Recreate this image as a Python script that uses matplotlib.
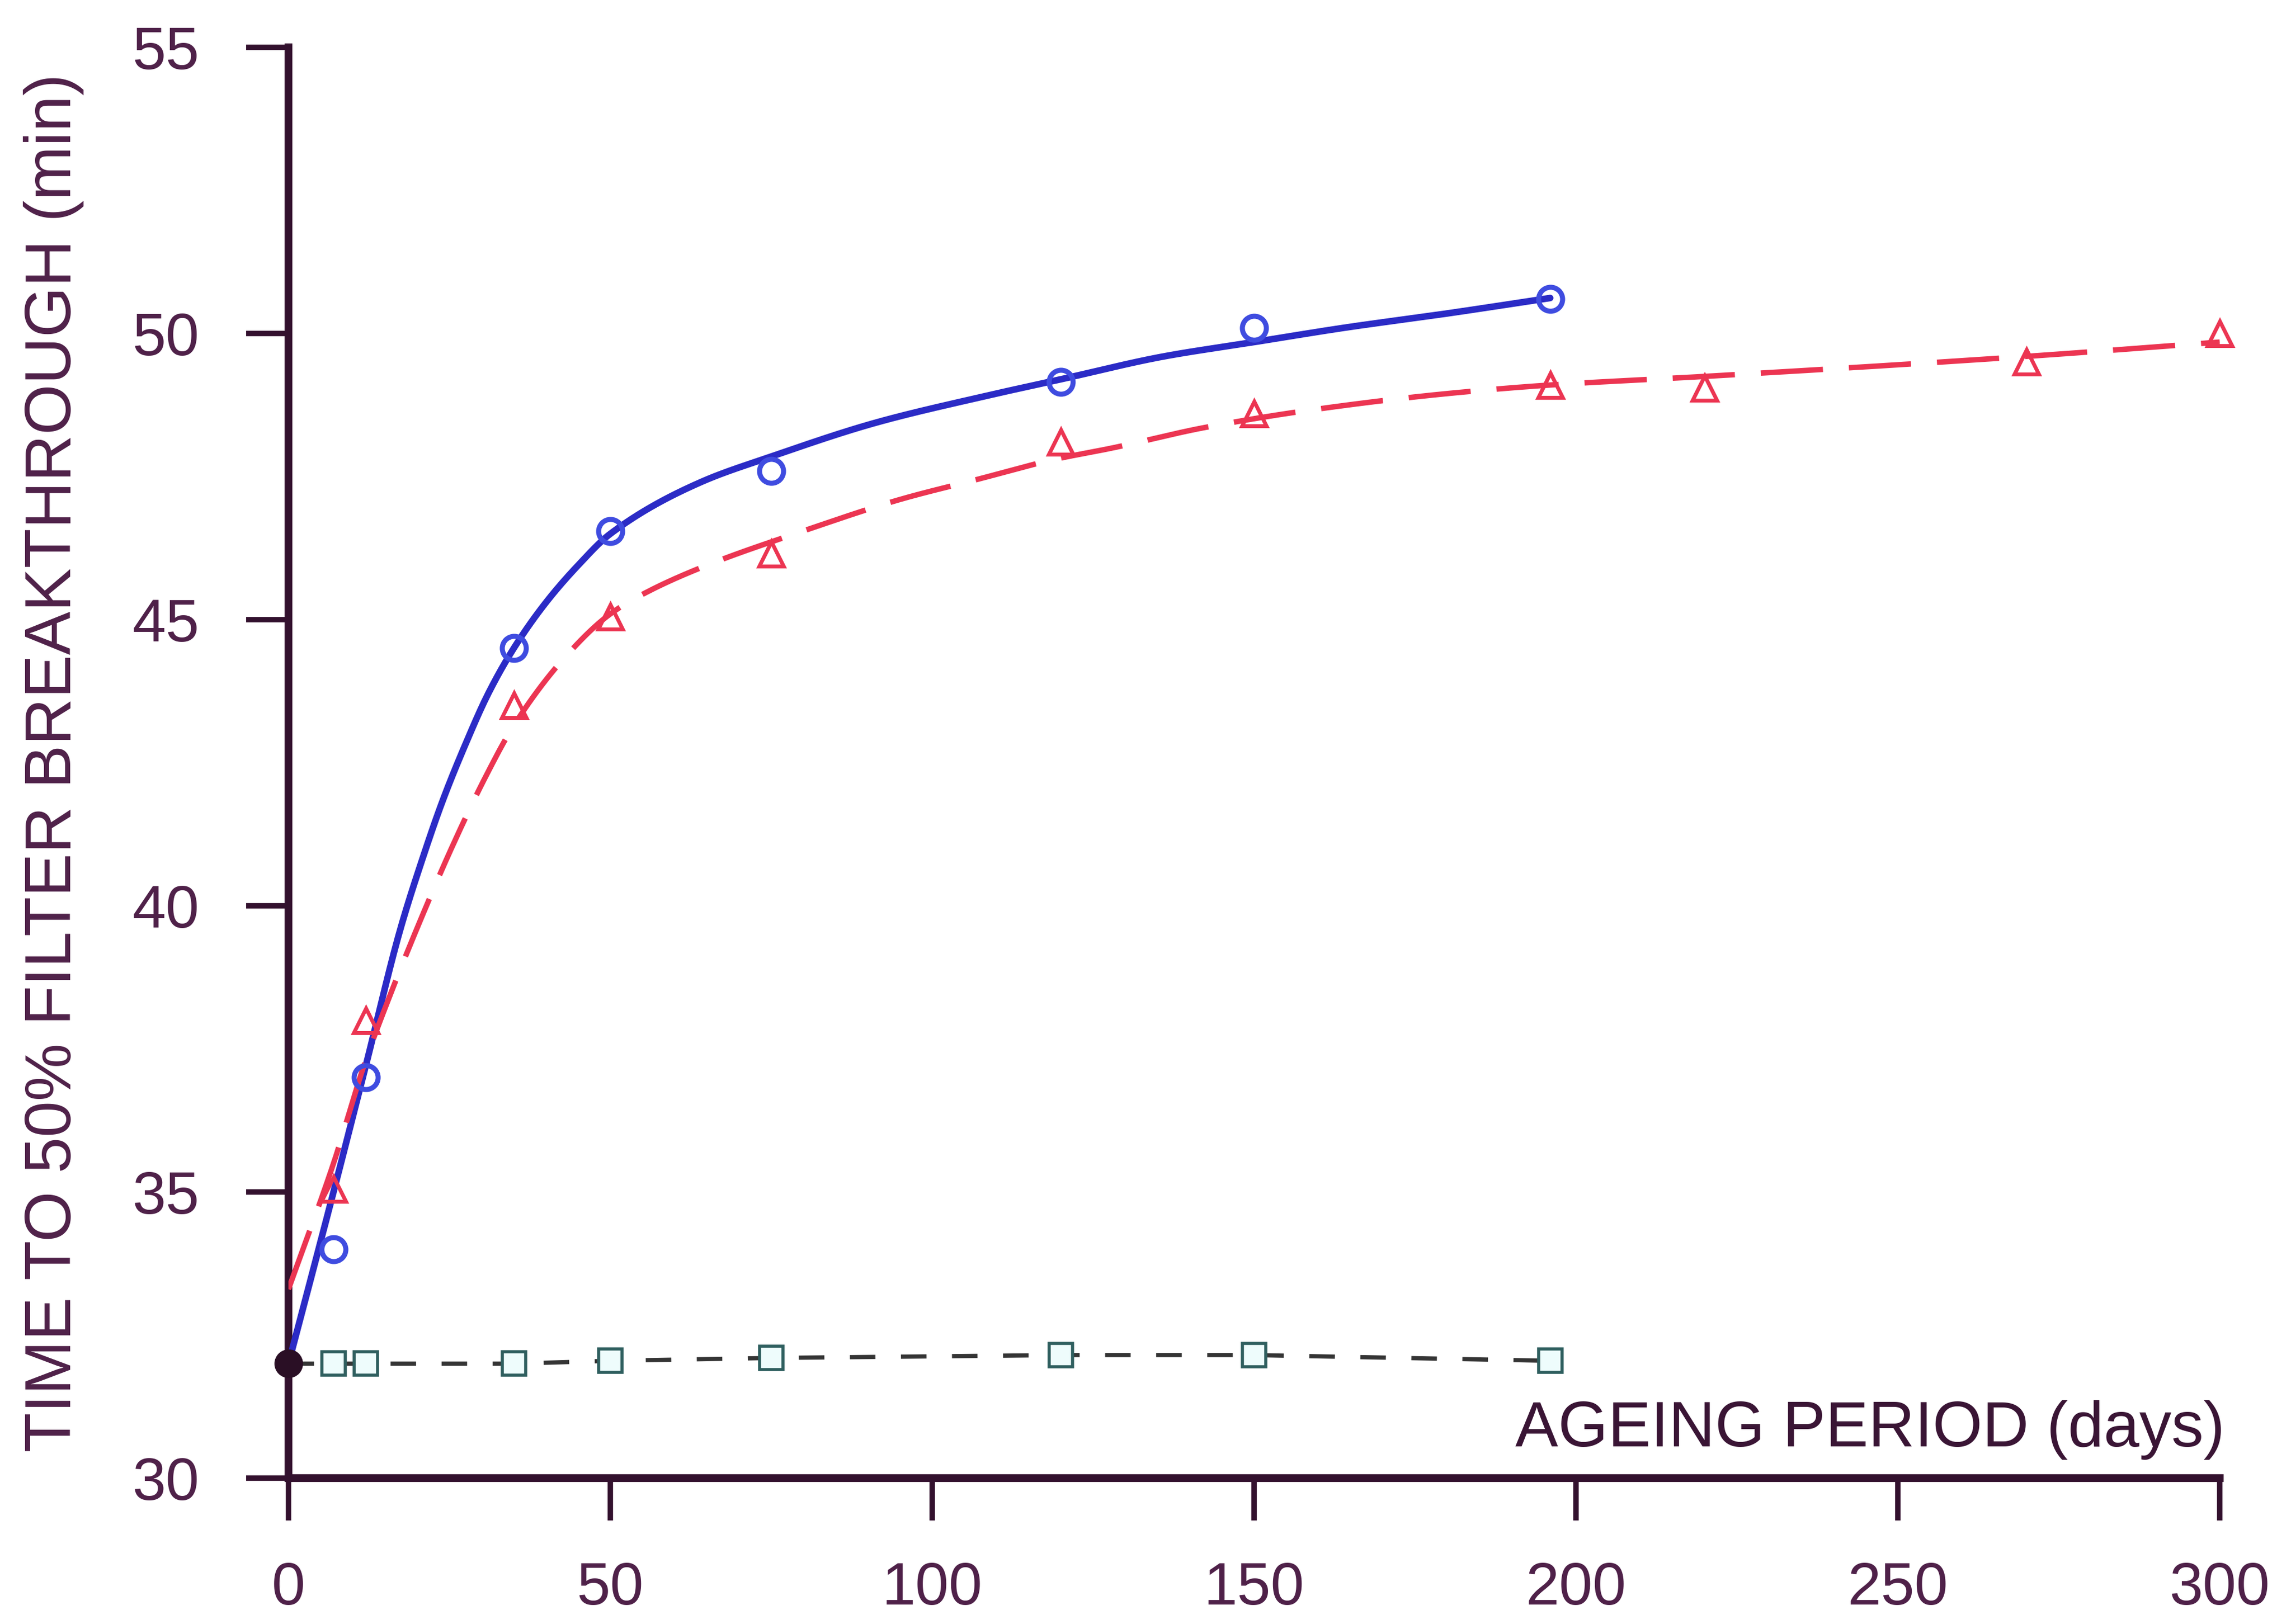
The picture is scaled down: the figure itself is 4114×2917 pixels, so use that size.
import numpy as np
import matplotlib
matplotlib.use("Agg")
import matplotlib.pyplot as plt

# ---- measured data -------------------------------------------------------
days_a = [7, 12, 35, 50, 75, 120, 150, 196]
time_a = [34.0, 37.0, 44.5, 46.55, 47.6, 49.15, 50.1, 50.6]

days_b = [7, 12, 35, 50, 75, 120, 150, 196, 220, 270, 300]
time_b = [35.05, 38.0, 43.5, 45.05, 46.15, 48.1, 48.6, 49.1, 49.05, 49.5, 50.0]

days_c = [0, 7, 12, 35, 50, 75, 120, 150, 196]
time_c = [32.0, 32.0, 32.0, 32.0, 32.05, 32.1, 32.15, 32.15, 32.05]

start_day = [0]
start_time = [32.0]

# fitted trend curves (knots)
fit_a_x = [0, 7, 12, 17.4, 20.9, 24, 27.6, 31, 35, 40, 45, 50, 64, 75, 91.5,
           108, 120, 136, 150, 164, 180, 196]
fit_a_y = [32.0, 35.0, 37.2, 39.6, 40.85, 41.85, 42.85, 43.7, 44.5, 45.3,
           45.95, 46.5, 47.4, 47.85, 48.45, 48.9, 49.2, 49.6, 49.85, 50.1,
           50.35, 50.62]

fit_b_x = [0, 7, 12, 16, 20.5, 25.3, 30.6, 35, 43, 50, 56, 65, 80, 95, 107,
           119, 128, 142, 158, 180, 196, 220, 270, 300]
fit_b_y = [33.3, 35.5, 37.3, 38.5, 39.75, 41.0, 42.25, 43.15, 44.35, 45.1,
           45.5, 45.95, 46.55, 47.1, 47.45, 47.8, 48.0, 48.35, 48.65, 48.95,
           49.1, 49.25, 49.6, 49.85]

x_ticks = [0, 50, 100, 150, 200, 250, 300]
y_ticks = [30, 35, 40, 45, 50, 55]

x_label = "AGEING PERIOD (days)"
y_label = "TIME TO 50% FILTER BREAKTHROUGH (min)"


def pchip(x, y, xs):
    """Shape-preserving piecewise cubic Hermite interpolation."""
    x = np.asarray(x, float)
    y = np.asarray(y, float)
    h = np.diff(x)
    d = np.diff(y) / h
    m = np.zeros_like(y)
    m[0], m[-1] = d[0], d[-1]
    for k in range(1, len(x) - 1):
        if d[k - 1] * d[k] > 0:
            w1 = 2 * h[k] + h[k - 1]
            w2 = h[k] + 2 * h[k - 1]
            m[k] = (w1 + w2) / (w1 / d[k - 1] + w2 / d[k])
    idx = np.clip(np.searchsorted(x, xs) - 1, 0, len(x) - 2)
    t = (xs - x[idx]) / h[idx]
    h00 = 2 * t**3 - 3 * t**2 + 1
    h10 = t**3 - 2 * t**2 + t
    h01 = -2 * t**3 + 3 * t**2
    h11 = t**3 - t**2
    return (h00 * y[idx] + h10 * h[idx] * m[idx]
            + h01 * y[idx + 1] + h11 * h[idx] * m[idx + 1])


plt.rcParams["font.family"] = ["Liberation Sans", "DejaVu Sans"]

axis_col = "#33112e"
text_col = "#4f2149"
blue = "#2b2bc6"
blue_mk = "#3f4ce0"
red = "#ec3552"
sq_line = "#353535"
sq_edge = "#2f5f5f"

fig = plt.figure(figsize=(41.14, 29.17), dpi=100)
ax = fig.add_axes([0.12591, 0.08982, 0.84297, 0.88104])

# trend curves
xa = np.linspace(fit_a_x[0], fit_a_x[-1], 600)
ax.plot(xa, pchip(fit_a_x, fit_a_y, xa), color=blue, lw=8.5,
        solid_capstyle="round", zorder=3)
xb = np.linspace(fit_b_x[0], fit_b_x[-1], 900)
ax.plot(xb, pchip(fit_b_x, fit_b_y, xb), color=red, lw=7, dashes=(11.5, 4.8),
        zorder=3)

# control series
ax.plot(days_c, time_c, color=sq_line, lw=5.5, dashes=(6, 6), zorder=3)
ax.plot(days_c[1:], time_c[1:], ls="none", marker="s", ms=30, mfc="#eefcfc",
        mec=sq_edge, mew=4, zorder=4)

# measured points
ax.plot(days_a, time_a, ls="none", marker="o", ms=31, mfc="none", mec=blue_mk,
        mew=6.5, zorder=5)
ax.plot(days_b, time_b, ls="none", marker="^", ms=31, mfc="none", mec=red,
        mew=5, zorder=5, clip_on=False)
ax.plot(start_day, start_time, ls="none", marker="o", ms=36, mfc="#2a0f25",
        mec="#2a0f25", zorder=6, clip_on=False)

ax.set_xlim(0, 300)
ax.set_ylim(30, 55)
ax.set_xticks(x_ticks)
ax.set_yticks(y_ticks)
ax.set_xticklabels([str(v) for v in x_ticks])
ax.set_yticklabels([str(v) for v in y_ticks])

for s in ("top", "right"):
    ax.spines[s].set_visible(False)
for s in ("left", "bottom"):
    ax.spines[s].set_color(axis_col)
    ax.spines[s].set_linewidth(10)
    ax.spines[s].set_capstyle("projecting")

ax.tick_params(axis="both", direction="out", length=55, width=7,
               color=axis_col, labelcolor=text_col, labelsize=78)
ax.tick_params(axis="y", pad=60)
ax.tick_params(axis="x", pad=52)

ax.set_ylabel(y_label, fontsize=84, color=text_col, labelpad=0)
ax.yaxis.set_label_coords(-0.1059, 0.5)

ax.text(300.8, 30.55, x_label, fontsize=83, color="#3a1535",
        ha="right", va="baseline")

fig.savefig("out.png", dpi=100)
